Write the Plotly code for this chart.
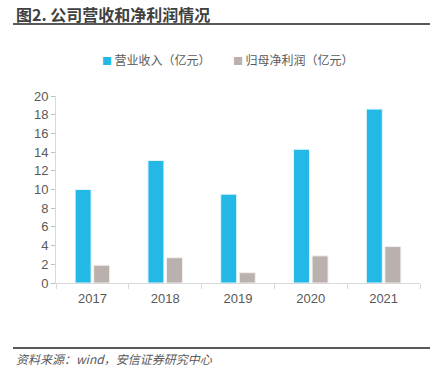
import plotly.graph_objects as go

years = ["2017", "2018", "2019", "2020", "2021"]
revenue = [10.0, 13.1, 9.5, 14.3, 18.6]
net_profit = [1.9, 2.7, 1.1, 2.9, 3.9]
y_ticks = [0, 2, 4, 6, 8, 10, 12, 14, 16, 18, 20]
series_names = ["营业收入（亿元）", "归母净利润（亿元）"]
colors = ["#24B8E6", "#BAB0AD"]

W, H = 440, 370
L, R, T, B = 56, 20, 96, 87
ph = H - T - B
pw = W - L - R

FONT = "Liberation Sans, Noto Sans CJK SC, sans-serif"
CJK = "Noto Sans CJK SC, sans-serif"
TXT = "#595959"

fig = go.Figure()
fig.add_trace(go.Bar(name=series_names[0], x=years, y=revenue, showlegend=False,
                     marker=dict(color=colors[0], line=dict(color="#E6F6FC", width=1))))
fig.add_trace(go.Bar(name=series_names[1], x=years, y=net_profit, showlegend=False,
                     marker=dict(color=colors[1], line=dict(color="#F2F0EF", width=1))))

def py(ypix):
    return (H - B - ypix) / ph

def px(xpix):
    return (xpix - L) / pw

fig.update_layout(
    width=W, height=H,
    margin=dict(l=L, r=R, t=T, b=B),
    paper_bgcolor="white", plot_bgcolor="white",
    barmode="group", bargap=0.49, bargroupgap=0.14,
    font=dict(family=FONT, color=TXT, size=13),
    xaxis=dict(showline=True, linecolor="#D9D9D9", linewidth=1, ticks="outside",
               tickson="boundaries", ticklen=5, tickcolor="#D9D9D9",
               ticklabelstandoff=3,
               tickfont=dict(size=13, color=TXT, family=FONT), showgrid=False),
    yaxis=dict(range=[0, 20], tickvals=y_ticks, showline=True, linecolor="#D9D9D9",
               linewidth=1, ticks="outside", ticklen=4, tickcolor="#BFBFBF",
               tickfont=dict(size=13, color=TXT, family=FONT), showgrid=False,
               zeroline=False),
)

# legend drawn as text
leg_x = [100, 231]
for name, col, lx in zip(series_names, colors, leg_x):
    fig.add_annotation(text=f"<span style='color:{col};font-size:10px'>■</span>\u2009{name}",
                       xref="paper", yref="paper", x=px(lx), y=py(60), xanchor="left",
                       yanchor="middle", showarrow=False,
                       font=dict(size=12, color=TXT, family=CJK))

# title, rules, source
fig.add_annotation(text="图2. 公司营收和净利润情况", xref="paper", yref="paper",
                   x=px(14), y=py(14), xanchor="left", yanchor="middle", showarrow=False,
                   font=dict(size=16, color="#404040", family=CJK, weight=600))
fig.add_shape(type="line", xref="paper", yref="paper", x0=px(13), x1=px(430),
              y0=py(24), y1=py(24), line=dict(color="#595959", width=2))
fig.add_shape(type="line", xref="paper", yref="paper", x0=px(13), x1=px(430),
              y0=py(348), y1=py(348), line=dict(color="#595959", width=2))
fig.add_annotation(text="资料来源：wind，安信证券研究中心", xref="paper", yref="paper",
                   x=px(14), y=py(358), xanchor="left", yanchor="middle", showarrow=False,
                   font=dict(size=12, color=TXT, family=CJK, style="italic"))

fig.write_html("out.html", config={"displayModeBar": False},
               post_script="document.body.style.margin='0px';")
